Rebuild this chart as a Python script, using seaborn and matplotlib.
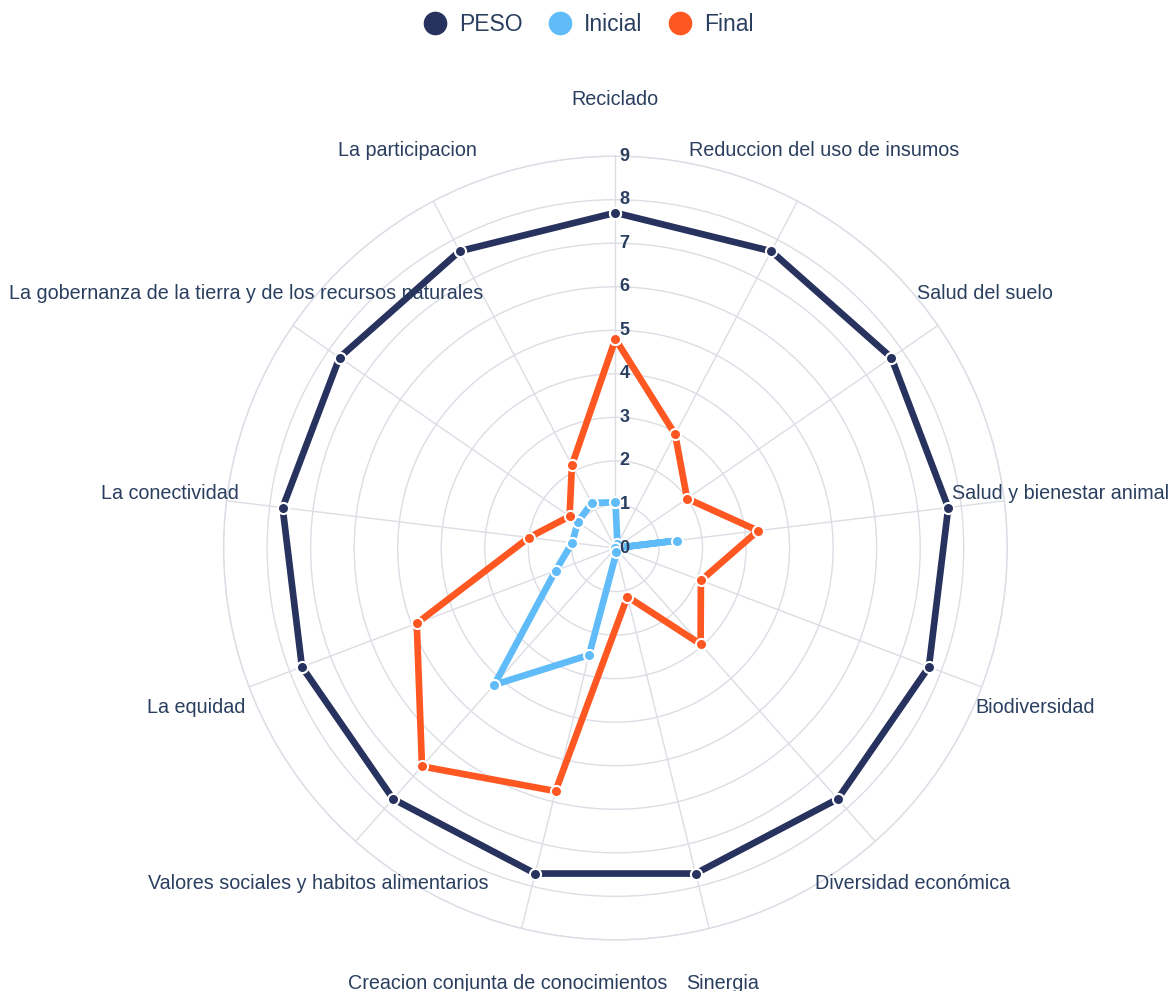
import numpy as np
import pandas as pd
import matplotlib
matplotlib.use("Agg")
import matplotlib.pyplot as plt
import matplotlib.transforms as mtransforms
from matplotlib.lines import Line2D
import seaborn as sns

# Datos del gráfico
categorias = [
    "Reciclado",
    "Reduccion del uso de insumos",
    "Salud del suelo",
    "Salud y bienestar animal",
    "Biodiversidad",
    "Diversidad económica",
    "Sinergia",
    "Creacion conjunta de conocimientos",
    "Valores sociales y habitos alimentarios",
    "La equidad",
    "La conectividad",
    "La gobernanza de la tierra y de los recursos naturales",
    "La participacion",
]
peso = [7.7, 7.7, 7.7, 7.7, 7.7, 7.7, 7.7, 7.7, 7.7, 7.7, 7.7, 7.7, 7.7]
inicial = [1.05, 0.1, 0, 1.42, 0, 0, 0.1, 2.53, 4.2, 1.47, 1.0, 1.05, 1.17]
final = [4.8, 2.95, 2.0, 3.3, 2.1, 2.95, 1.15, 5.75, 6.7, 4.88, 2.0, 1.28, 2.15]
series = ["PESO", "Inicial", "Final"]
colores = ["#27325e", "#60bcf9", "#ff5722"]
ticks_r = list(range(0, 10))

TEXTO = "#2a3f5f"
GRID = "#dcdde5"

sns.set_style("white")
plt.rcParams["font.family"] = ["Liberation Sans", "DejaVu Sans"]

# tabla larga, cerrando el polígono
n = len(categorias)
theta = np.linspace(0, 2 * np.pi, n, endpoint=False)
filas = []
for nombre, valores in zip(series, [peso, inicial, final]):
    for t, v in zip(list(theta) + [2 * np.pi], valores + [valores[0]]):
        filas.append({"serie": nombre, "theta": t, "valor": v})
df = pd.DataFrame(filas)

fig = plt.figure(figsize=(11.68, 9.91), dpi=100)
ax = fig.add_axes([0.1914, 0.0515, 0.671, 0.791], projection="polar")
ax.set_theta_zero_location("N")
ax.set_theta_direction(-1)

sns.lineplot(
    data=df, x="theta", y="valor", hue="serie", hue_order=series,
    palette=dict(zip(series, colores)), sort=False, estimator=None,
    linewidth=4.8, marker="o", markersize=8, markeredgecolor="white",
    markeredgewidth=1.5, legend=False, ax=ax,
)

ax.set_ylim(0, 9)
ax.set_xticks(theta)
ax.set_xticklabels([])
ax.set_yticks(ticks_r[1:])
ax.set_yticklabels([])
ax.grid(True, color=GRID, linewidth=1)
ax.spines["polar"].set_color(GRID)
ax.spines["polar"].set_linewidth(1)
ax.set_xlabel("")
ax.set_ylabel("")

# etiquetas de categorías
for t, nombre in zip(theta, categorias):
    ax.text(t, 10.3, nombre, ha="center", va="center", fontsize=14.2,
            color=TEXTO, clip_on=False)

# etiquetas del eje radial
desplazado = mtransforms.offset_copy(ax.transData, fig=fig, x=4, y=0, units="dots")
for r in ticks_r:
    ax.text(0, r, str(r), transform=desplazado, ha="left", va="center",
            fontsize=13, fontweight="bold", color=TEXTO, clip_on=False)

# leyenda
manijas = [Line2D([], [], linestyle="none", marker="o", markersize=16,
                  markerfacecolor=c, markeredgecolor=c) for c in colores]
fig.legend(manijas, series, loc="upper center", bbox_to_anchor=(0.504, 1.008),
           ncol=3, frameon=False, fontsize=16.5, handlelength=1.0,
           handletextpad=0.55, columnspacing=1.15, labelcolor=TEXTO)

fig.savefig("out.png", dpi=100)
